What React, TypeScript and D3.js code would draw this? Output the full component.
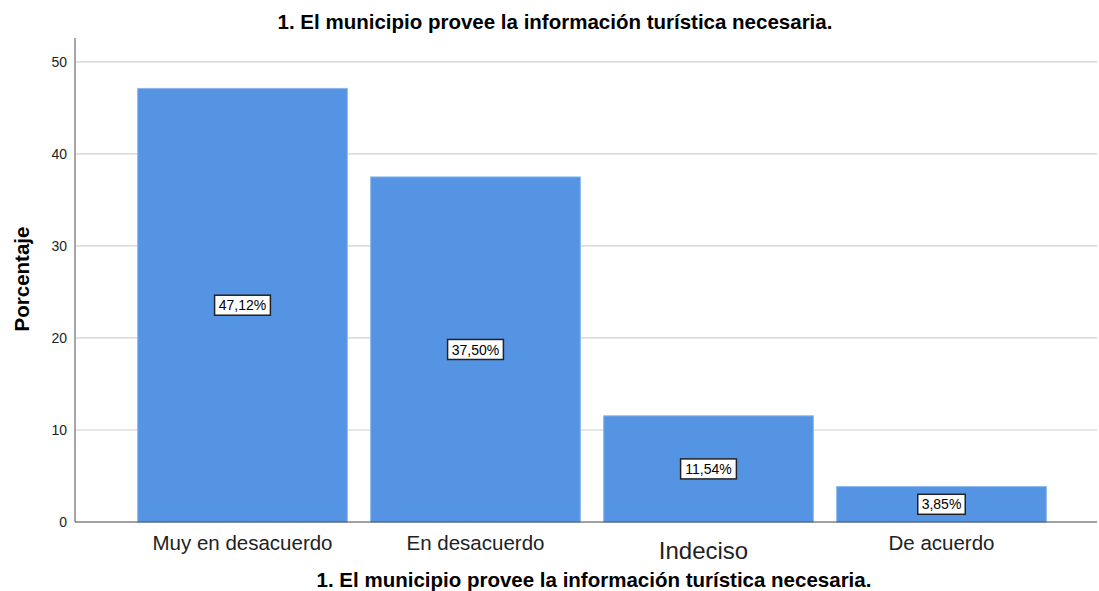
import React from "react";
import * as d3 from "d3";

const categories = ["Muy en desacuerdo", "En desacuerdo", "Indeciso", "De acuerdo"];
const values = [47.12, 37.5, 11.54, 3.85];
const valueLabels = ["47,12%", "37,50%", "11,54%", "3,85%"];
const yTicks = [0, 10, 20, 30, 40, 50];
const title = "1. El municipio provee la información turística necesaria.";
const yTitle = "Porcentaje";

export default function App() {
  const W = 1099, H = 591;
  const left = 75, right = 1097, top = 38, bottom = 522;
  const y = d3.scaleLinear().domain([0, 52.6]).range([bottom, top]);
  const x = d3.scaleBand<string>().domain(categories).range([126, 1058]).paddingInner(0.1).paddingOuter(0.05);
  const font = "Arial, 'Liberation Sans', sans-serif";
  return (
    <svg width={W} height={H} style={{ position: "absolute", left: 0, top: 0, background: "#fff" }} fontFamily={font}>
      {yTicks.filter(t => t > 0).map(t => (
        <line key={t} x1={left} x2={right} y1={y(t)} y2={y(t)} stroke="#d0d0d0" strokeWidth={1.2} />
      ))}
      {categories.map((c, i) => (
        <rect key={c} x={x(c)} y={y(values[i])} width={x.bandwidth()} height={bottom - y(values[i])} fill="#5594E3" stroke="#8ab6ee" strokeWidth={1} />
      ))}
      <line x1={left} x2={left} y1={top} y2={bottom} stroke="#888" strokeWidth={1.5} />
      <line x1={left} x2={right} y1={bottom} y2={bottom} stroke="#444" strokeWidth={1.2} />
      {yTicks.map(t => (
        <text key={t} x={left - 8} y={y(t)} dy="0.35em" textAnchor="end" fontSize={14} fill="#222">{t}</text>
      ))}
      {categories.map((c, i) => {
        const cx = (x(c) as number) + x.bandwidth() / 2;
        const cy = y(values[i] / 2);
        const big = c === "Indeciso";
        const bw = valueLabels[i].length * 8.3 + 6;
        return (
          <g key={c}>
            <rect x={cx - bw / 2} y={cy - 10} width={bw} height={20} fill="#fff" stroke="#222" strokeWidth={1.5} />
            <text x={cx} y={cy} dy="0.36em" textAnchor="middle" fontSize={14} fill="#000">{valueLabels[i]}</text>
            <text x={big ? cx - 5 : cx} y={big ? 551 : 543} dy="0.35em" textAnchor="middle" fontSize={big ? 24 : 20.5} fill="#222">{c}</text>
          </g>
        );
      })}
      <text x={555} y={22} dy="0.35em" textAnchor="middle" fontSize={20.5} fontWeight="bold" fill="#000">{title}</text>
      <text x={594} y={580} dy="0.35em" textAnchor="middle" fontSize={20.5} fontWeight="bold" fill="#000">{title}</text>
      <text transform={`translate(22,${279}) rotate(-90)`} dy="0.35em" textAnchor="middle" fontSize={20.5} fontWeight="bold" fill="#000">{yTitle}</text>
    </svg>
  );
}
